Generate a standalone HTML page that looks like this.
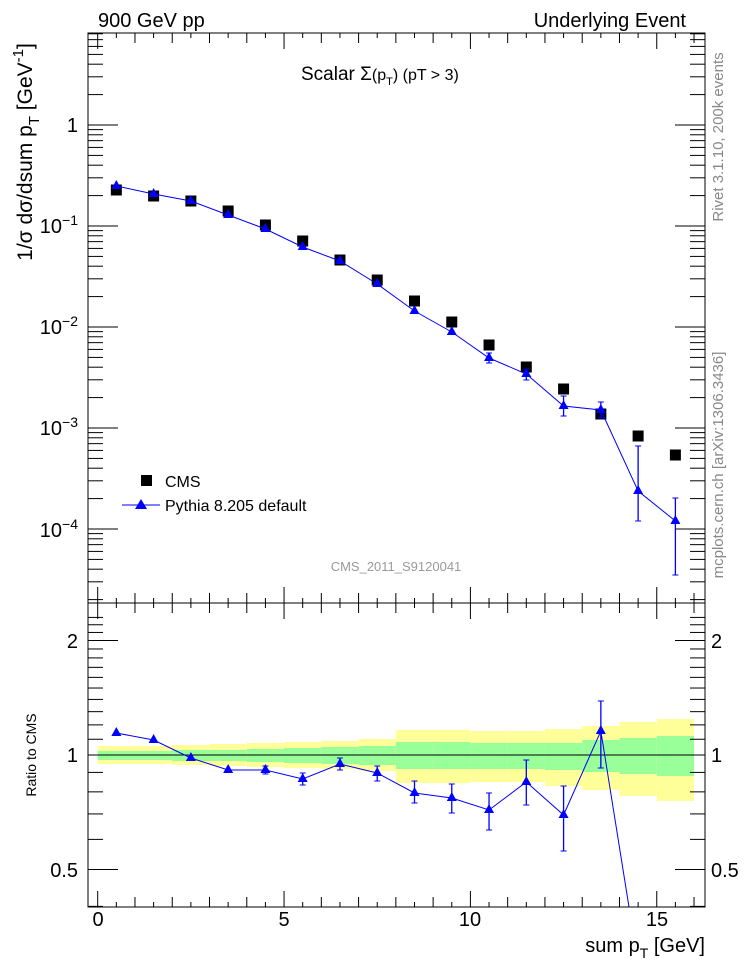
<!DOCTYPE html>
<html><head><meta charset="utf-8"><style>
body{margin:0;background:#fff}
svg text{font-family:"Liberation Sans",sans-serif}
</style></head><body>
<svg id="s" width="746" height="972" xmlns="http://www.w3.org/2000/svg">
<g id="bands"></g>
<g id="ax" stroke="#000" stroke-width="1" fill="none"></g>
<g id="dat"></g>
<text x="98" y="27" font-size="20">900 GeV pp</text>
<text x="686" y="27" font-size="20" text-anchor="end">Underlying Event</text>
<text x="301" y="80" font-size="19">Scalar  Σ<tspan font-size="16">(p</tspan><tspan font-size="11" dy="5">T</tspan><tspan font-size="16" dy="-5">) (pT &gt;  3)</tspan></text>
<text x="396" y="571" font-size="13" fill="#999" text-anchor="middle">CMS_2011_S9120041</text>
<rect x="141" y="475" width="11" height="11" fill="#000"/>
<text x="165" y="487" font-size="16">CMS</text>
<line x1="122" y1="505" x2="160" y2="505" stroke="#00f"/>
<polygon points="141,499 135,509 147,509" fill="#00f"/>
<text x="165" y="511" font-size="16">Pythia 8.205 default</text>
<g font-size="20" text-anchor="end">
<text x="78" y="132">1</text>
<text x="78" y="233">10<tspan font-size="14" dy="-8">−1</tspan></text>
<text x="78" y="334">10<tspan font-size="14" dy="-8">−2</tspan></text>
<text x="78" y="435">10<tspan font-size="14" dy="-8">−3</tspan></text>
<text x="78" y="537">10<tspan font-size="14" dy="-8">−4</tspan></text>
<text x="78" y="648">2</text><text x="78" y="762">1</text><text x="78" y="877">0.5</text>
</g>
<g font-size="20">
<text x="711" y="648">2</text><text x="711" y="762">1</text><text x="711" y="877">0.5</text>
</g>
<g font-size="20" text-anchor="middle">
<text x="98" y="926">0</text><text x="284" y="926">5</text><text x="470" y="926">10</text><text x="657" y="926">15</text>
</g>
<text x="705" y="952" font-size="20" text-anchor="end">sum p<tspan font-size="14" dy="6">T</tspan><tspan dy="-6"> [GeV]</tspan></text>
<text transform="translate(32,152) rotate(-90)" font-size="21" text-anchor="middle">1/σ dσ/dsum p<tspan font-size="15" dy="7">T</tspan><tspan dy="-7"> [GeV</tspan><tspan font-size="15" dy="-9">-1</tspan><tspan dy="9">]</tspan></text>
<text transform="translate(36,755) rotate(-90)" font-size="14" text-anchor="middle">Ratio to CMS</text>
<text transform="translate(723,137) rotate(-90)" font-size="15" fill="#888" text-anchor="middle">Rivet 3.1.10,  200k events</text>
<text transform="translate(723,465) rotate(-90)" font-size="15" fill="#888" text-anchor="middle">mcplots.cern.ch [arXiv:1306.3436]</text>
</svg>
<script>
var NS="http://www.w3.org/2000/svg";
function el(p,t,a){var e=document.createElementNS(NS,t);for(var k in a)e.setAttribute(k,a[k]);document.getElementById(p).appendChild(e);return e;}
function X(v){return 97.7+37.27*v;}
var yb=[[746,764],[746,764],[745,765],[744,766],[743,767],[742,768],[741,769],[739,771],[730,783],[730,783],[731,782],[731,782],[729,786],[726,790],[722,796],[719,801]];
var gb=[[751,760],[751,760],[750,761],[750,761],[749,762],[748,763],[747,764],[746,765],[742,769],[742,769],[743,769],[743,769],[743,770],[740,772],[738,774],[736,776]];
for(var i=0;i<16;i++){el("bands","rect",{x:X(i),y:yb[i][0],width:37.3,height:yb[i][1]-yb[i][0],fill:"#ffff99"});
el("bands","rect",{x:X(i),y:gb[i][0],width:37.3,height:gb[i][1]-gb[i][0],fill:"#99ff99"});}
el("bands","line",{x1:88,y1:755,x2:705,y2:755,stroke:"#000"});
el("ax","rect",{x:88,y:33,width:617,height:570});
el("ax","rect",{x:88,y:603,width:617,height:304});
for(var v=0;v<=16.5;v+=0.5){var x=X(v);if(x>704)break;var L=(v%5==0)?16:(v%1==0?10:5);
[[603,-1],[907,-1],[33,1]].forEach(function(q){el("ax","line",{x1:x,y1:q[0],x2:x,y2:q[0]+q[1]*L});});
el("ax","line",{x1:x,y1:603,x2:x,y2:603+L});}
function YT(v){return 125-101*Math.log10(v);}
for(var d=-5;d<=0;d++)for(var m=1;m<10;m++){var v=m*Math.pow(10,d);var y=YT(v);if(y<33||y>603)continue;var L=m==1?30:15;
el("ax","line",{x1:88,y1:y,x2:88+L,y2:y});el("ax","line",{x1:705,y1:y,x2:705-L,y2:y});}
function YR(v){return 755-114.5*Math.log2(v);}
[0.4,0.5,0.6,0.7,0.8,0.9,1,1.1,1.2,1.3,1.4,1.5,1.6,1.7,1.8,1.9,2,2.1,2.2,2.3].forEach(function(v){var y=YR(v);if(y<603||y>907)return;var L=(v==0.5||v==1||v==2)?30:15;
el("ax","line",{x1:88,y1:y,x2:88+L,y2:y});el("ax","line",{x1:705,y1:y,x2:705-L,y2:y});});
var cms=[190,196,201,211,225,241,260,280,301,322,345,367,389,414,436,455];
var py=[186,194,201,215,229,247,261,284,311,332,358,374,406,410,491,521];
var pe={12:[396,416],13:[402,418],14:[446,521],15:[498,575],10:[353,363],11:[369,380]};
var ra=[733,740,758,770,770,779,764,773,793,798,810,782,815,731];
var re={4:[766,774],5:[773,785],6:[758,770],7:[766,781],8:[781,803],9:[784,813],10:[793,830],11:[760,805],12:[786,851],13:[701,768]};
cms.forEach(function(y,i){el("dat","rect",{x:X(i+0.5)-5.5,y:y-5.5,width:11,height:11,fill:"#000"});});
function tri(x,y){el("dat","polygon",{points:(x)+","+(y-6)+" "+(x-5)+","+(y+3)+" "+(x+5)+","+(y+3),fill:"#00f"});}
function bar(x,a,b){el("dat","line",{x1:x,y1:a,x2:x,y2:b,stroke:"#00f","stroke-width":1.3});el("dat","line",{x1:x-3,y1:a,x2:x+3,y2:a,stroke:"#00f"});el("dat","line",{x1:x-3,y1:b,x2:x+3,y2:b,stroke:"#00f"});}
el("dat","polyline",{points:py.map(function(y,i){return X(i+0.5)+","+y;}).join(" "),fill:"none",stroke:"#00f"});
py.forEach(function(y,i){if(pe[i])bar(X(i+0.5),pe[i][0],pe[i][1]);tri(X(i+0.5),y);});
var pts=ra.map(function(y,i){return X(i+0.5)+","+y;});pts.push("629,907");
el("dat","polyline",{points:pts.join(" "),fill:"none",stroke:"#00f"});
ra.forEach(function(y,i){if(re[i])bar(X(i+0.5),re[i][0],re[i][1]);tri(X(i+0.5),y);});
</script>
</body></html>
